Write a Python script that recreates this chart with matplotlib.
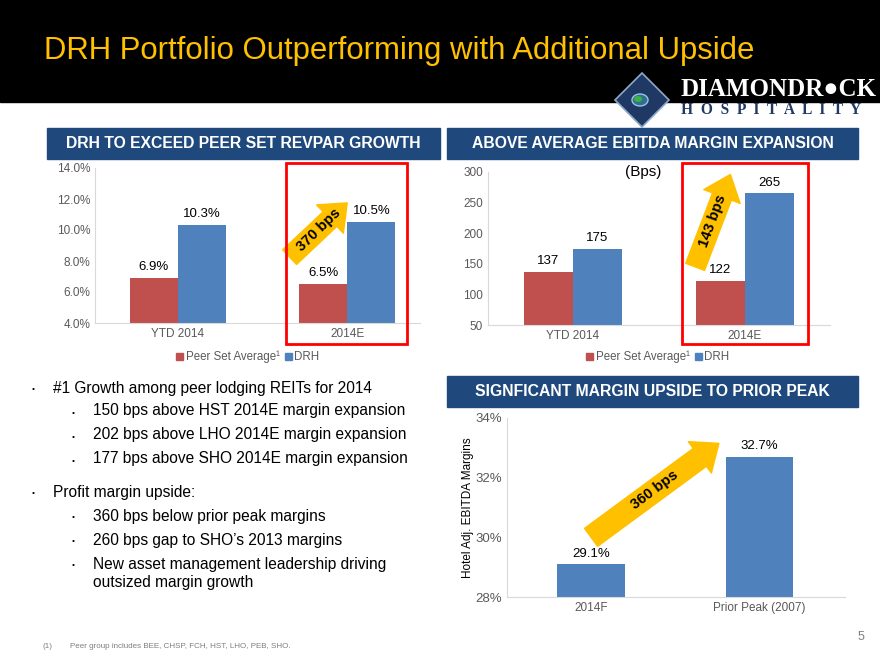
import matplotlib
matplotlib.use("Agg")
import matplotlib.pyplot as plt
import numpy as np
from matplotlib.patches import Rectangle, Polygon, Circle, Patch

plt.rcParams['font.family'] = ['Liberation Sans', 'DejaVu Sans']

# ---- data ----
revpar_cats = ['YTD 2014', '2014E']
revpar_peer = [6.9, 6.5]
revpar_drh = [10.3, 10.5]
revpar_ticks = [4, 6, 8, 10, 12, 14]

ebitda_cats = ['YTD 2014', '2014E']
ebitda_peer = [137, 122]
ebitda_drh = [175, 265]
ebitda_ticks = [50, 100, 150, 200, 250, 300]

peak_cats = ['2014F', 'Prior Peak (2007)']
peak_vals = [29.1, 32.7]
peak_ticks = [28, 30, 32, 34]

RED = '#C0504D'
BLUE = '#4F81BD'
NAVY = '#1F497D'
GOLD = '#FFC000'
GRAY = '#595959'

W, H = 880, 660
fig = plt.figure(figsize=(W / 100, H / 100), dpi=100)


def fx(x):
    return x / W


def fy(y):
    return 1 - y / H


def px_axes(l, t, r, b):
    return fig.add_axes([fx(l), fy(b), (r - l) / W, (b - t) / H])


def style_ax(ax):
    for s in ['top', 'right']:
        ax.spines[s].set_visible(False)
    for s in ['left', 'bottom']:
        ax.spines[s].set_color('#D9D9D9')
    ax.tick_params(length=0, colors=GRAY, labelsize=8.5)


def arrow(ax, tail, head, text, rot, tw=1.45):
    ax.annotate('', xy=head, xytext=tail, annotation_clip=False,
                arrowprops=dict(arrowstyle=f'simple,head_length=1.7,head_width=2.8,tail_width={tw}',
                                color=GOLD, mutation_scale=10, shrinkA=0, shrinkB=0))
    mx = (tail[0] + head[0]) / 2
    my = (tail[1] + head[1]) / 2
    ax.text(mx, my, text, rotation=rot, ha='center', va='center',
            fontsize=10.5, fontweight='bold', color='black', rotation_mode='anchor')


def legend(xc, yc):
    fig.legend(handles=[Patch(color=RED, label='Peer Set Average¹'), Patch(color=BLUE, label='DRH')],
               loc='center', bbox_to_anchor=(fx(xc), fy(yc)), ncol=2, frameon=False,
               fontsize=8.3, handlelength=0.6, handleheight=0.6, handletextpad=0.25,
               columnspacing=0.4, labelcolor=GRAY)


# ---- background: title band ----
fig.patches.append(Rectangle((0, fy(102)), 1, 102 / H, transform=fig.transFigure,
                             color='black', zorder=0))
fig.text(fx(44), fy(51), 'DRH Portfolio Outperforming with Additional Upside',
         color=GOLD, fontsize=22.4, va='center', ha='left')

# logo
cx, cy, r = 642, 100, 27
fig.patches.append(Polygon([(fx(cx), fy(cy - r)), (fx(cx + r), fy(cy)),
                            (fx(cx), fy(cy + r)), (fx(cx - r), fy(cy))],
                           closed=True, transform=fig.transFigure,
                           facecolor='#1F3864', edgecolor='#8EA9C8', lw=1.2, zorder=2))
fig.patches.append(Circle((fx(cx - 2), fy(cy)), 8 / W, transform=fig.transFigure,
                          facecolor='#2F6F8F', edgecolor='#9CC3E6', lw=1, zorder=3))
fig.patches.append(Circle((fx(cx - 4), fy(cy - 1)), 4 / W, transform=fig.transFigure,
                          facecolor='#3CB043', lw=0, zorder=4))
fig.text(fx(680), fy(89), 'DIAMONDR●CK', family=['Liberation Serif', 'DejaVu Sans'],
         color='white', fontsize=18, va='center', ha='left', fontweight='bold')
fig.text(fx(681), fy(110), 'H  O  S  P  I  T  A  L  I  T  Y', family=['Liberation Serif', 'DejaVu Sans'],
         color='#1F3864', fontsize=11.2, va='center', ha='left', fontweight='bold')


def header(l, t, r, b, text):
    fig.patches.append(Rectangle((fx(l), fy(b)), (r - l) / W, (b - t) / H,
                                 transform=fig.transFigure, color=NAVY, zorder=1))
    fig.text(fx((l + r) / 2), fy((t + b) / 2), text, color='white', fontsize=11.3,
             fontweight='bold', ha='center', va='center')


header(47, 128, 440, 159, 'DRH TO EXCEED PEER SET REVPAR GROWTH')
header(447, 128, 858, 159, 'ABOVE AVERAGE EBITDA MARGIN EXPANSION')
header(447, 376, 858, 407, 'SIGNFICANT MARGIN UPSIDE TO PRIOR PEAK')

# ---- chart 1: RevPAR growth ----
ax1 = px_axes(95, 168, 420, 323)
x = np.arange(len(revpar_cats))
bw = 0.285
ax1.bar(x - bw / 2, revpar_peer, bw, color=RED)
ax1.bar(x + bw / 2, revpar_drh, bw, color=BLUE)
ax1.set_ylim(4, 14)
ax1.set_xlim(-0.49, 1.43)
ax1.set_yticks(revpar_ticks)
ax1.set_yticklabels([f'{t:.1f}%' for t in revpar_ticks])
ax1.set_xticks(x)
ax1.set_xticklabels(revpar_cats)
style_ax(ax1)
for i in range(len(x)):
    ax1.text(x[i] - bw / 2, revpar_peer[i] + 0.35, f'{revpar_peer[i]:.1f}%', ha='center',
             va='bottom', fontsize=9.5)
    ax1.text(x[i] + bw / 2, revpar_drh[i] + 0.35, f'{revpar_drh[i]:.1f}%', ha='center',
             va='bottom', fontsize=9.5)
arrow(ax1, (0.66, 8.25), (1.0, 11.75), '370 bps', 44)

# red highlight box
fig.patches.append(Rectangle((fx(286), fy(344)), 121 / W, 181 / H, transform=fig.transFigure,
                             fill=False, edgecolor='#FF0000', lw=2, zorder=5))
legend(248, 357)

# ---- chart 2: EBITDA margin expansion ----
ax2 = px_axes(488, 172, 830, 325)
bw2 = 0.285
ax2.bar(x - bw2 / 2, ebitda_peer, bw2, color=RED)
ax2.bar(x + bw2 / 2, ebitda_drh, bw2, color=BLUE)
ax2.set_ylim(50, 300)
ax2.set_xlim(-0.494, 1.494)
ax2.set_yticks(ebitda_ticks)
ax2.set_xticks(x)
ax2.set_xticklabels(ebitda_cats)
style_ax(ax2)
for i in range(len(x)):
    ax2.text(x[i] - bw2 / 2, ebitda_peer[i] + 8, f'{ebitda_peer[i]}', ha='center',
             va='bottom', fontsize=9.5)
    ax2.text(x[i] + bw2 / 2, ebitda_drh[i] + 8, f'{ebitda_drh[i]}', ha='center',
             va='bottom', fontsize=9.5)
ax2.text(0.41, 300, '(Bps)', ha='center', va='center', fontsize=11)
arrow(ax2, (0.71, 145), (0.915, 296), '143 bps', 70)
fig.patches.append(Rectangle((fx(682), fy(344)), 126 / W, 181 / H, transform=fig.transFigure,
                             fill=False, edgecolor='#FF0000', lw=2, zorder=5))
legend(658, 357)

# ---- chart 3: margin upside to prior peak ----
ax3 = px_axes(507, 418, 845, 597)
x3 = np.arange(len(peak_cats))
ax3.bar(x3, peak_vals, 0.40, color=BLUE)
ax3.set_ylim(28, 34)
ax3.set_xlim(-0.5, 1.51)
ax3.set_yticks(peak_ticks)
ax3.set_yticklabels([f'{t}%' for t in peak_ticks])
ax3.set_xticks(x3)
ax3.set_xticklabels(peak_cats)
style_ax(ax3)
ax3.tick_params(axis='y', labelsize=9.5)
for i in range(len(x3)):
    ax3.text(x3[i], peak_vals[i] + 0.15, f'{peak_vals[i]:.1f}%', ha='center', va='bottom',
             fontsize=9.5)
ax3.set_ylabel('Hotel Adj. EBITDA Margins', fontsize=8.5, labelpad=1)
arrow(ax3, (0.0, 30.0), (0.76, 33.15), '360 bps', 37, tw=1.6)

# ---- bullet text ----
bullets = [
    (33, 53, 388, '#1 Growth among peer lodging REITs for 2014'),
    (73, 93, 411, '150 bps above HST 2014E margin expansion'),
    (73, 93, 435, '202 bps above LHO 2014E margin expansion'),
    (73, 93, 459, '177 bps above SHO 2014E margin expansion'),
    (33, 53, 492, 'Profit margin upside:'),
    (73, 93, 516, '360 bps below prior peak margins'),
    (73, 93, 540, '260 bps gap to SHO\u2019s 2013 margins'),
    (73, 93, 564, 'New asset management leadership driving'),
]
for bx, tx, ty, txt in bullets:
    fig.text(fx(bx), fy(ty + 2), '•', fontsize=6, ha='center', va='center')
    fig.text(fx(tx), fy(ty), txt, fontsize=11.2, ha='left', va='center')
fig.text(fx(93), fy(582), 'outsized margin growth', fontsize=11.2, ha='left', va='center')

# footnote and page number
fig.text(fx(42), fy(646), '(1)', fontsize=5.8, color='#7F7F7F', va='center')
fig.text(fx(70), fy(646), 'Peer group includes BEE, CHSP, FCH, HST, LHO, PEB, SHO.',
         fontsize=5.8, color='#7F7F7F', va='center')
fig.text(fx(858), fy(637), '5', fontsize=9, color='#7F7F7F', va='center')

fig.savefig('out.png', dpi=100)
